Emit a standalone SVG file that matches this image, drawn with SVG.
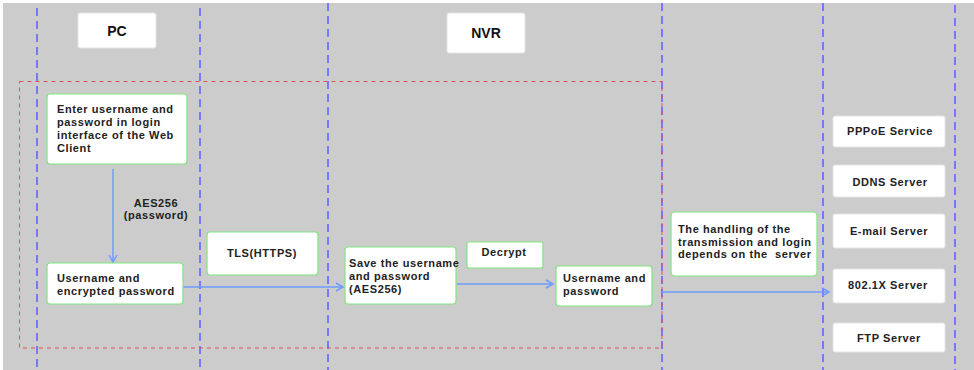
<svg xmlns="http://www.w3.org/2000/svg" width="974" height="370" viewBox="0 0 974 370">
<style>
.lane{stroke:#7878ff;stroke-width:2;stroke-dasharray:8,5;fill:none}
.frame{stroke:#e05050;stroke-width:1;stroke-dasharray:4,4;fill:none}
.box{fill:#fff;stroke:#7ee67e;stroke-width:1.2}
.plain{fill:#fff;stroke:#e4e4e4;stroke-width:1}
.t{font-family:"Liberation Sans",Arial,sans-serif;font-weight:bold;font-size:11px;fill:#222;letter-spacing:0.6px}
.h{font-family:"Liberation Sans",Arial,sans-serif;font-weight:bold;font-size:14px;fill:#111;text-anchor:middle}
.c{text-anchor:middle}
.ar{stroke:#6f9bff;stroke-width:1.5;fill:none}
</style>
<defs>
<marker id="arr" markerWidth="10" markerHeight="10" refX="8" refY="5" orient="auto" markerUnits="userSpaceOnUse">
<path d="M1,1 L8,5 L1,9" fill="none" stroke="#6f9bff" stroke-width="1.5"/>
</marker>
</defs>
<rect x="3" y="3" width="971" height="367" fill="#cccccc"/>
<g id="lanes">
<line class="lane" x1="37" y1="8" x2="37" y2="370"/>
<line class="lane" x1="200" y1="8" x2="200" y2="370"/>
<line class="lane" x1="328" y1="3" x2="328" y2="370"/>
<line class="lane" x1="662" y1="3" x2="662" y2="370"/>
<line class="lane" x1="823" y1="3" x2="823" y2="370"/>
<line class="lane" x1="955" y1="5" x2="955" y2="370"/>
</g>
<rect class="frame" x="19.5" y="81.5" width="642.5" height="266.5"/>
<g id="pc"><rect class="plain" x="78" y="13" width="78" height="35" rx="2"/><text class="h" x="117" y="36">PC</text></g>
<g id="nvr"><rect class="plain" x="447" y="13" width="78" height="40" rx="2"/><text class="h" x="486" y="38" font-size="13">NVR</text></g>
<g id="connectors">
<line class="ar" x1="113" y1="169" x2="113" y2="262" marker-end="url(#arr)"/>
<line class="ar" x1="183" y1="287" x2="343" y2="287" marker-end="url(#arr)"/>
<line class="ar" x1="457" y1="284" x2="553" y2="284" marker-end="url(#arr)"/>
<line class="ar" x1="662" y1="292" x2="829" y2="292" marker-end="url(#arr)"/>
</g>
<text class="t c" x="156" y="207">AES256</text>
<text class="t c" x="156" y="219">(password)</text>
<g id="enter"><rect class="box" x="47" y="94" width="140" height="70" rx="3"/>
<text class="t" x="57" y="113">Enter username and</text>
<text class="t" x="57" y="126">password in login</text>
<text class="t" x="57" y="139">interface of the Web</text>
<text class="t" x="57" y="152">Client</text></g>
<g id="encrypted"><rect class="box" x="47" y="263" width="136" height="41" rx="3"/>
<text class="t" x="57" y="282">Username and</text>
<text class="t" x="57" y="295">encrypted password</text></g>
<g id="tls"><rect class="box" x="207" y="232" width="111" height="43" rx="3"/>
<text class="t c" x="262" y="257">TLS(HTTPS)</text></g>
<g id="save"><rect class="box" x="345" y="247" width="111" height="57" rx="3"/>
<text class="t" x="349" y="267" letter-spacing="0">Save the username</text>
<text class="t" x="349" y="280">and password</text>
<text class="t" x="349" y="293">(AES256)</text></g>
<g id="decrypt"><rect class="box" x="467" y="242" width="76" height="26" rx="2"/>
<text class="t c" x="504" y="256">Decrypt</text></g>
<g id="plainpw"><rect class="box" x="556" y="266" width="96" height="40" rx="3"/>
<text class="t" x="563" y="282">Username and</text>
<text class="t" x="563" y="295">password</text></g>
<g id="handling"><rect class="box" x="671" y="212" width="146" height="64" rx="4"/>
<text class="t" x="678" y="233">The handling of the</text>
<text class="t" x="678" y="246">transmission and login</text>
<text class="t" x="678" y="258" xml:space="preserve">depends on the  server</text></g>
<g id="pppoe"><rect class="plain" x="833" y="116" width="112" height="31" rx="2"/><text class="t c" x="890" y="135">PPPoE Service</text></g>
<g id="ddns"><rect class="plain" x="833" y="165" width="112" height="32" rx="2"/><text class="t c" x="890" y="186">DDNS Server</text></g>
<g id="email"><rect class="plain" x="833" y="214" width="112" height="34" rx="2"/><text class="t c" x="889" y="235">E-mail Server</text></g>
<g id="dot1x"><rect class="plain" x="833" y="269" width="112" height="34" rx="2"/><text class="t c" x="888" y="289">802.1X Server</text></g>
<g id="ftp"><rect class="plain" x="833" y="323" width="112" height="29" rx="2"/><text class="t c" x="889" y="342">FTP Server</text></g>
</svg>
